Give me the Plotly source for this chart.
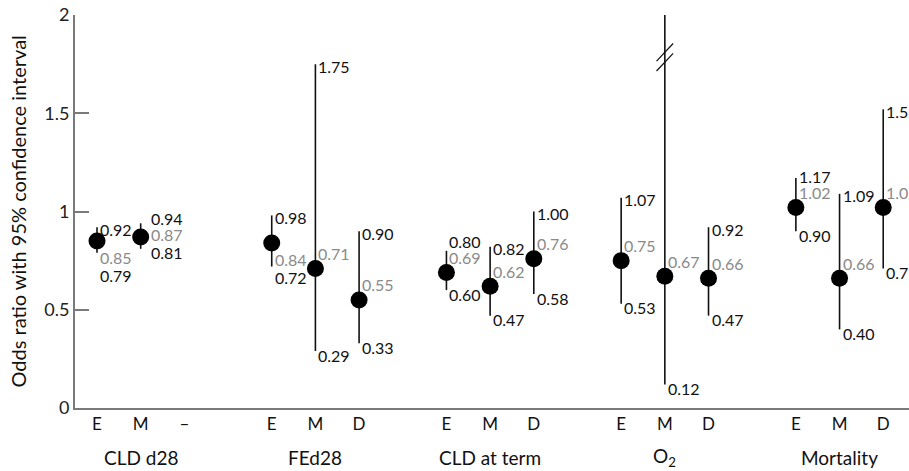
import plotly.graph_objects as go

# ---- data ----
groups = ["CLD d28", "FEd28", "CLD at term", "O<sub>2</sub>", "Mortality"]
sub_labels = ["E", "M", "–", "E", "M", "D", "E", "M", "D", "E", "M", "D", "E", "M", "D"]
slot_of_sub = [0, 1, 2, 4, 5, 6, 8, 9, 10, 12, 13, 14, 16, 17, 18]
group_center_slot = [1, 5, 9, 13, 17]

point_slot = [0, 1, 4, 5, 6, 8, 9, 10, 12, 13, 14, 16, 17, 18]
odds_ratio = [0.85, 0.87, 0.84, 0.71, 0.55, 0.69, 0.62, 0.76, 0.75, 0.67, 0.66, 1.02, 0.66, 1.02]
ci_upper = [0.92, 0.94, 0.98, 1.75, 0.90, 0.80, 0.82, 1.00, 1.07, 3.71, 0.92, 1.17, 1.09, 1.52]
ci_lower = [0.79, 0.81, 0.72, 0.29, 0.33, 0.60, 0.47, 0.58, 0.53, 0.12, 0.47, 0.90, 0.40, 0.71]

y_ticks = [0, 0.5, 1, 1.5, 2]
y_tick_text = ["0", "0.5", "1", "1.5", "2"]

# ---- style (placement of value labels) ----
mean_label_place = ["below", "level", "below", "above", "above", "above", "above", "above",
                    "above", "above", "above", "above", "above", "above"]
label_dx = [1, 8, 1, 1, 1, 1, 1, 1, 1, 1, 1, 1, 1, 1]

Y_MAX = 2.0
BREAK_CAP = 2.02
upper_shown = [min(u, BREAK_CAP) for u in ci_upper]

# figure geometry
W, H = 909, 471
ML, MR, MT, MB = 75, 0, 15, 63
PX_PER_UNIT = (H - MT - MB) / Y_MAX

FONT = "Lato, 'Open Sans', sans-serif"
BLACK = "#111111"
GREY = "#8a8a8a"
AXIS = "#7a7a7a"
LBL = 16

fig = go.Figure()

# whiskers
wx, wy = [], []
for s, lo, hi in zip(point_slot, ci_lower, upper_shown):
    wx += [s, s, None]
    wy += [lo, hi, None]
fig.add_trace(go.Scatter(x=wx, y=wy, mode="lines", line=dict(color=BLACK, width=1.6),
                         cliponaxis=False, hoverinfo="skip", showlegend=False))
# points
fig.add_trace(go.Scatter(x=point_slot, y=odds_ratio, mode="markers",
                         marker=dict(size=17, color="black"), cliponaxis=False,
                         showlegend=False))


def px(v):
    # pixel position measured downward from the top of the plot area
    return (Y_MAX - v) * PX_PER_UNIT


ann = []
for i, s in enumerate(point_slot):
    dx = label_dx[i]
    dot_px = px(odds_ratio[i])
    place = mean_label_place[i]
    if place == "below":
        gray_px = dot_px + 17
    elif place == "level":
        gray_px = dot_px - 3
    else:
        gray_px = dot_px - 15
    hi_px = px(upper_shown[i])
    lo_px = px(ci_lower[i])
    up_target = min(hi_px + 2, gray_px - 16)
    lo_target = max(lo_px + 4, gray_px + 18)

    ann.append(dict(x=s, y=upper_shown[i], text=f"{ci_upper[i]:.2f}", xanchor="left",
                    yanchor="middle", xshift=dx, yshift=hi_px - up_target, showarrow=False,
                    font=dict(size=LBL, color=BLACK, family=FONT)))
    ann.append(dict(x=s, y=ci_lower[i], text=f"{ci_lower[i]:.2f}", xanchor="left",
                    yanchor="middle", xshift=dx, yshift=lo_px - lo_target, showarrow=False,
                    font=dict(size=LBL, color=BLACK, family=FONT)))
    ann.append(dict(x=s, y=odds_ratio[i], text=f"{odds_ratio[i]:.2f}", xanchor="left",
                    yanchor="middle", xshift=dx, yshift=dot_px - gray_px, showarrow=False,
                    font=dict(size=LBL, color=GREY, family=FONT)))

# group labels
for g, c in zip(groups, group_center_slot):
    ann.append(dict(x=c, y=0, yref="y", text=g, xanchor="center", yanchor="middle",
                    yshift=-49, showarrow=False, font=dict(size=19, color=BLACK, family=FONT)))

# y-axis title
ann.append(dict(xref="paper", yref="paper", x=0, y=0.5, xanchor="center", yanchor="middle",
                xshift=17 - ML, textangle=-90, showarrow=False,
                text="Odds ratio with 95% confidence interval",
                font=dict(size=20, color=BLACK, family=FONT)))

# axis break marks on the long whisker
shapes = []
for i, u in enumerate(ci_upper):
    if u > Y_MAX:
        s = point_slot[i]
        for yc in (1.81, 1.76):
            shapes.append(dict(type="line", xref="x", yref="y",
                               x0=s - 0.19, y0=yc - 0.045, x1=s + 0.19, y1=yc + 0.045,
                               line=dict(color=BLACK, width=1.2)))

fig.update_layout(
    width=W, height=H,
    margin=dict(l=ML, r=MR, t=MT, b=MB, pad=0),
    paper_bgcolor="white", plot_bgcolor="white",
    font=dict(family=FONT, color=BLACK),
    annotations=ann, shapes=shapes, showlegend=False,
    xaxis=dict(range=[-0.504, 18.59], showgrid=False, zeroline=False,
               showline=True, linecolor=AXIS, linewidth=2,
               tickmode="array", tickvals=slot_of_sub, ticktext=sub_labels,
               ticks="", tickfont=dict(size=17, color=BLACK, family=FONT)),
    yaxis=dict(range=[0, Y_MAX], showgrid=False, zeroline=False,
               showline=True, linecolor=AXIS, linewidth=2,
               tickmode="array", tickvals=y_ticks, ticktext=y_tick_text,
               ticks="inside", ticklen=14, tickwidth=1.5, tickcolor=AXIS,
               ticklabeloverflow="allow",
               tickfont=dict(size=18, color="#222222", family=FONT)),
)

fig.write_html(
    "out.html",
    config={"displayModeBar": False},
    post_script="document.body.style.margin='0';document.body.style.overflow='hidden';",
)
